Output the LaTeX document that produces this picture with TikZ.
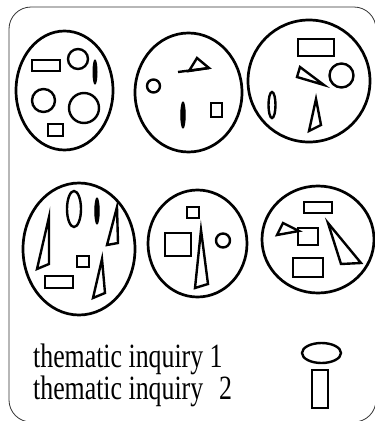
\documentclass[tikz,border=0pt]{standalone}
\usepackage{fontspec}
\setmainfont{Liberation Serif}
\usetikzlibrary{positioning}

\begin{document}
\begin{tikzpicture}[
  x=1pt, y=-1pt,
  frame/.style={draw=black!80, line width=0.8pt, rounded corners=22pt},
  group/.style={draw=black, line width=2.7pt},
  item/.style={draw=black, line width=2.4pt, line join=miter},
  blob/.style={draw=black, fill=black, line width=1pt},
  legendtext/.style={font=\fontsize{34}{22.7}\selectfont,
    align=left, xscale=0.76, anchor=base west, inner sep=0pt}
]
  \useasboundingbox (0,0) rectangle (375,421);

  % Outer frame
  \draw[frame] (9,7) rectangle (376,422);

  % Group 1 (top left)
  \draw[group] (64.5,90.5) ellipse [x radius=48.5pt, y radius=59.5pt];
  \draw[item] (32,60) rectangle (60,71);
  \draw[item] (78,59) circle (10pt);
  \draw[blob] (95,72) ellipse [x radius=2pt, y radius=12pt];
  \draw[item] (43.5,100.5) circle (11.5pt);
  \draw[item] (84,108) circle (15pt);
  \draw[item] (48,124) rectangle (63,136);

  % Group 2 (top middle)
  \draw[group] (188.5,92.5) ellipse [x radius=53.5pt, y radius=59.5pt];
  \draw[item] (153.5,86) circle (6.5pt);
  \draw[item] (189,71) -- (197,58) -- (209,68) -- cycle;
  \draw[item] (178,72) -- (209,68);
  \draw[blob] (183,115) ellipse [x radius=2.2pt, y radius=13pt];
  \draw[item] (211,103) rectangle (222,117);

  % Group 3 (top right)
  \draw[group] (309,81) ellipse [x radius=61pt, y radius=61pt];
  \draw[item] (298,39) rectangle (334,56);
  \draw[item] (300,67) -- (297,77) -- (324,85) -- cycle;
  \draw[item] (341.5,75.5) circle (12pt);
  \draw[item] (272,105) ellipse [x radius=3.5pt, y radius=13pt];
  \draw[item] (316,99) -- (309,131) -- (321,125) -- cycle;

  % Group 4 (bottom left)
  \draw[group] (79,249) ellipse [x radius=56pt, y radius=66pt];
  \draw[item] (74,209) ellipse [x radius=7pt, y radius=18pt];
  \draw[blob] (97,211) ellipse [x radius=2.2pt, y radius=13pt];
  \draw[item] (117,207) -- (107,245) -- (118,243) -- cycle;
  \draw[item] (49,217) -- (37,269) -- (49,264) -- cycle;
  \draw[item] (77,256) rectangle (89,267);
  \draw[item] (45,276) rectangle (73,288);
  \draw[item] (102,259) -- (93,298) -- (105,293) -- cycle;

  % Group 5 (bottom middle)
  \draw[group] (197.5,243.5) ellipse [x radius=49.5pt, y radius=53.5pt];
  \draw[item] (187,207) rectangle (199,218);
  \draw[item] (165,233) rectangle (191,256);
  \draw[item] (201,230) -- (195,288) -- (208,284) -- cycle;
  \draw[item] (223,240.5) circle (7pt);

  % Group 6 (bottom right)
  \draw[group] (318,239.5) ellipse [x radius=56pt, y radius=53.5pt];
  \draw[item] (304,202) rectangle (332,213);
  \draw[item] (277,235) -- (283,223) -- (299,231) -- cycle;
  \draw[item] (298,228) rectangle (318,245);
  \draw[item] (328,223) -- (341,264) -- (361,263) -- cycle;
  \draw[item] (293,258) rectangle (323,277);

  % Legend
  \node[legendtext] (inquiry) at (33,399.5)
    {\lineskiplimit=-50pt\relax thematic inquiry 1\\thematic inquiry\ \ \hspace{4pt}2};
  \draw[item] (321.5,353) ellipse [x radius=19.5pt, y radius=10pt];
  \draw[item] (312,370) rectangle (328,408);
\end{tikzpicture}
\end{document}
